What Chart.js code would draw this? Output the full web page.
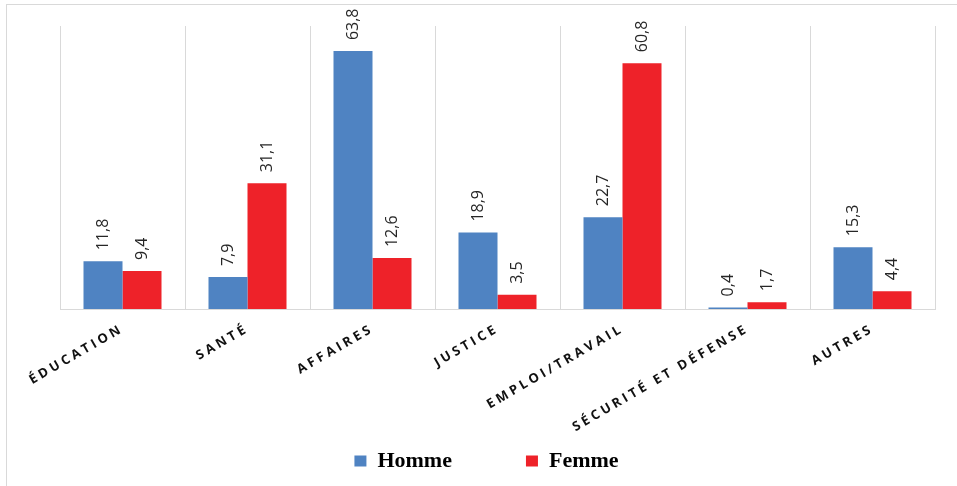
<!DOCTYPE html>
<html lang="fr">
<head>
<meta charset="utf-8">
<title>Répartition par domaine</title>
<script src="https://cdn.jsdelivr.net/npm/chart.js@4/dist/chart.umd.min.js"></script>
<style>
    html, body { margin: 0; padding: 0; background: #fff; }
    .wrap { position: relative; width: 957px; height: 486px; overflow: hidden; }
    .frame { position: absolute; left: 6px; top: 4px; width: 1000px; height: 600px;
             border-left: 1px solid #d9d9d9; border-top: 1px solid #d9d9d9; }
    canvas { position: absolute; left: 0; top: 0; }
</style>
</head>
<body>
<div class="wrap">
    <div class="frame"></div>
    <canvas id="domainChart" width="957" height="486"></canvas>
</div>
<script>
const categories = ['ÉDUCATION', 'SANTÉ', 'AFFAIRES', 'JUSTICE', 'EMPLOI/TRAVAIL', 'SÉCURITÉ ET DÉFENSE', 'AUTRES'];
const hommeValues = [11.8, 7.9, 63.8, 18.9, 22.7, 0.4, 15.3];
const femmeValues = [9.4, 31.1, 12.6, 3.5, 60.8, 1.7, 4.4];
const seriesNames = ['Homme', 'Femme'];
const yMax = 70;

const BLUE = '#4F83C2';
const RED = '#EE2229';

function formatValue(v) {
    return v.toFixed(1).replace('.', ',');
}

// vertical value labels above each bar
const valueLabels = {
    id: 'valueLabels',
    afterDatasetsDraw(chart) {
        const ctx = chart.ctx;
        chart.data.datasets.forEach((ds, i) => {
            const meta = chart.getDatasetMeta(i);
            meta.data.forEach((bar, j) => {
                ctx.save();
                ctx.translate(bar.x, bar.y - 11);
                ctx.rotate(-Math.PI / 2);
                ctx.font = '16px "Open Sans"';
                ctx.fillStyle = '#262626';
                ctx.textAlign = 'left';
                ctx.textBaseline = 'middle';
                ctx.fillText(formatValue(ds.data[j]), 0, 0);
                ctx.restore();
            });
        });
    }
};

// spaced-out capitals on the category axis, allowed to run below the axis box
const spacedTicks = {
    id: 'spacedTicks',
    beforeDraw(chart) {
        const x = chart.scales.x;
        if (x._spaced) return;
        const orig = x.drawLabels;
        x._computeLabelArea = () => undefined;
        x.drawLabels = function(area) {
            const c = this.ctx;
            c.save();
            c.letterSpacing = '3.3px';
            orig.call(this, area);
            c.restore();
        };
        x._spaced = true;
    }
};

const ctx = document.getElementById('domainChart').getContext('2d');
const chart = new Chart(ctx, {
    type: 'bar',
    data: {
        labels: categories,
        datasets: [
            {
                label: seriesNames[0],
                data: hommeValues,
                backgroundColor: BLUE
            },
            {
                label: seriesNames[1],
                data: femmeValues,
                backgroundColor: RED
            }
        ]
    },
    options: {
        responsive: false,
        animation: false,
        categoryPercentage: 0.624,
        barPercentage: 1.0,
        layout: {
            padding: { top: 26, left: 38, right: 22, bottom: 4 }
        },
        plugins: {
            legend: {
                position: 'bottom',
                align: 'center',
                labels: {
                    color: '#000',
                    boxWidth: 12,
                    boxHeight: 11,
                    padding: 74,
                    font: { family: '"Liberation Serif"', size: 22, weight: 'bold' }
                }
            },
            tooltip: { enabled: false }
        },
        scales: {
            x: {
                grid: {
                    color: '#d9d9d9',
                    lineWidth: 1,
                    drawTicks: false,
                    offset: true
                },
                border: { color: '#d9d9d9', width: 1 },
                ticks: {
                    color: '#111',
                    padding: 12,
                    minRotation: 30,
                    maxRotation: 30,
                    autoSkip: false,
                    font: { family: '"Open Sans"', size: 13, weight: 'bold' }
                },
                afterFit(scale) {
                    scale.height = 67;
                    scale.paddingLeft = 60;
                }
            },
            y: {
                display: false,
                min: 0,
                max: yMax
            }
        }
    },
    plugins: [spacedTicks, valueLabels]
});
chart.draw();
</script>
</body>
</html>
